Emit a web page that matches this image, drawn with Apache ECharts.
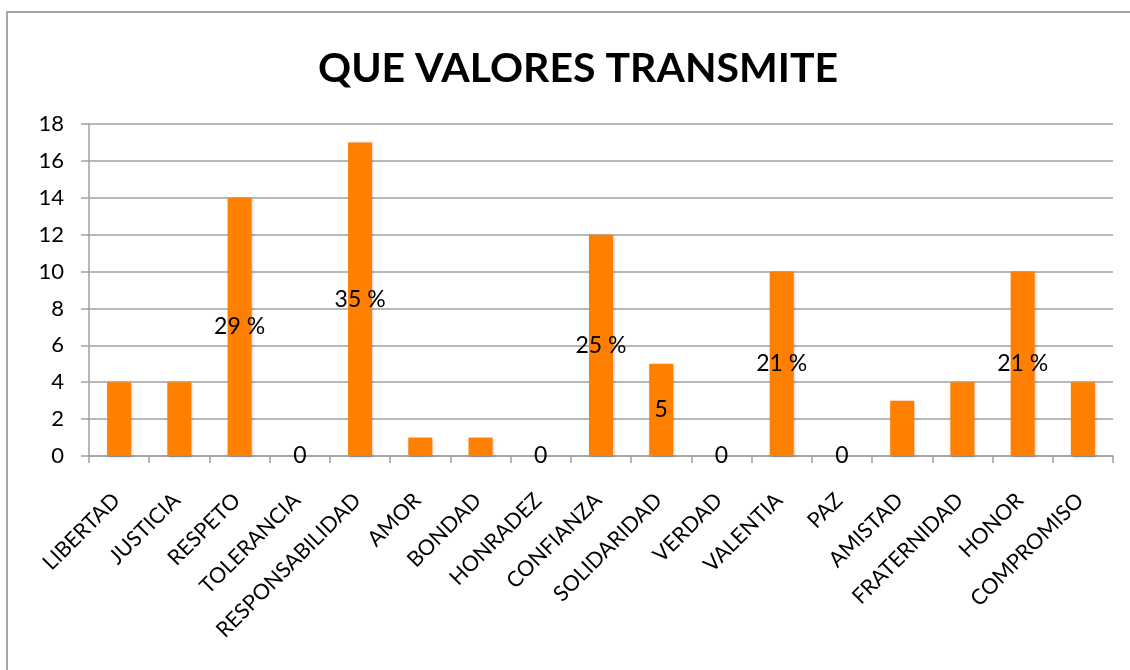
<!DOCTYPE html>
<html>
<head>
<meta charset="utf-8">
<script src="https://cdn.jsdelivr.net/npm/echarts@6/dist/echarts.min.js"></script>
<style>html,body{margin:0;padding:0;background:#fff}#c{width:1130px;height:670px}</style>
</head>
<body>
<div id="c"></div>
<script>
const categories = ["LIBERTAD","JUSTICIA","RESPETO","TOLERANCIA","RESPONSABILIDAD","AMOR","BONDAD","HONRADEZ","CONFIANZA","SOLIDARIDAD","VERDAD","VALENTIA","PAZ","AMISTAD","FRATERNIDAD","HONOR","COMPROMISO"];
const values = [4,4,14,0,17,1,1,0,12,5,0,10,0,3,4,10,4];
const dataLabels = ["","","29 %","0","35 %","","","0","25 %","5","0","21 %","0","","","21 %",""];
const titleText = "QUE VALORES TRANSMITE";

const chart = echarts.init(document.getElementById('c'));
const FONT = 'Lato';
chart.setOption({
  animation: false,
  backgroundColor: '#fff',
  title: {
    text: titleText, left: 313, top: 43,
    textStyle: {fontFamily: FONT, fontWeight: 'bold', fontSize: 41, color: '#000'}
  },
  graphic: [{
    type: 'rect', shape: {x: 7, y: 12, width: 1140, height: 700},
    style: {fill: 'none', stroke: '#a6a6a6', lineWidth: 2}, silent: true
  }],
  grid: {left: 89, right: 17, top: 124, bottom: 214, containLabel: false},
  xAxis: {
    type: 'category', data: categories,
    axisLine: {lineStyle: {color: '#a0a0a0', width: 1.5}},
    axisTick: {show: true, length: 7, lineStyle: {color: '#a0a0a0', width: 1.5}},
    axisLabel: {rotate: 45, margin: 38, fontFamily: FONT, fontSize: 21.5, color: '#000', interval: 0, padding: [0, 4, 0, 0]}
  },
  yAxis: {
    type: 'value', min: 0, max: 18, interval: 2,
    axisLine: {show: true, lineStyle: {color: '#a0a0a0', width: 1.5}},
    axisTick: {show: true, length: 8, lineStyle: {color: '#a0a0a0', width: 1.5}},
    splitLine: {lineStyle: {color: '#a0a0a0', width: 1.5}},
    axisLabel: {margin: 25, fontFamily: FONT, fontSize: 22, color: '#000'}
  },
  series: [{
    type: 'bar', data: values, barWidth: 24,
    itemStyle: {color: '#ff7f00', shadowColor: 'rgba(0,0,0,0.25)', shadowBlur: 3, shadowOffsetX: 1, shadowOffsetY: 1},
    label: {
      show: true, position: 'inside',
      formatter: p => dataLabels[p.dataIndex],
      fontFamily: FONT, fontSize: 23, color: '#000'
    }
  }]
});
</script>
</body>
</html>
